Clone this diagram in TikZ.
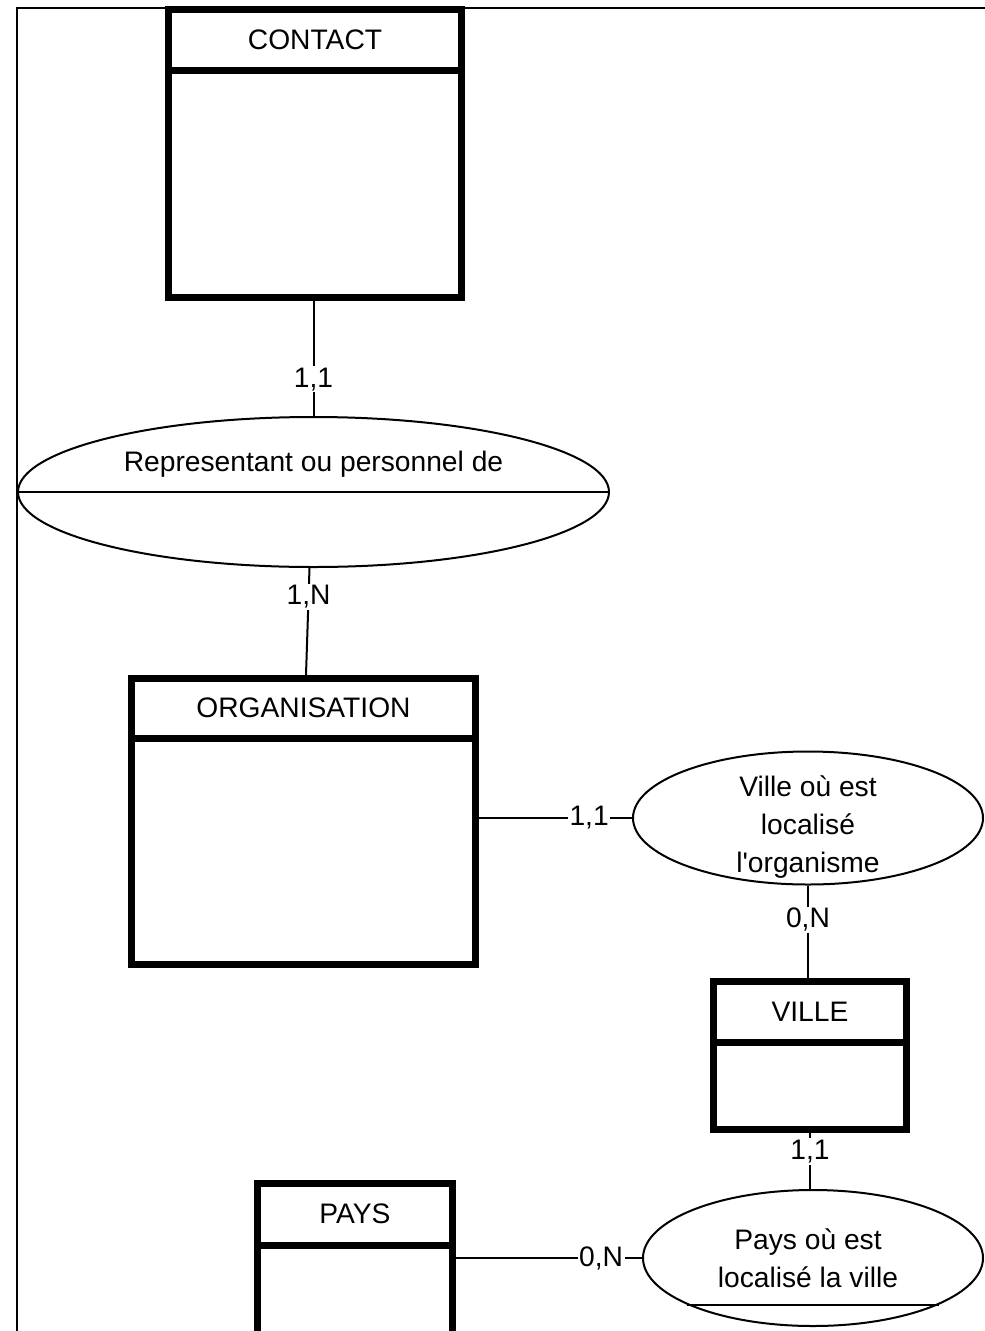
\documentclass[tikz,border=0pt]{standalone}
\usepackage{fontspec}
\setmainfont{Liberation Sans}[Ligatures=TeXOff]
\usetikzlibrary{shapes.geometric}
\begin{document}
\begin{tikzpicture}[x=1pt,y=-1pt,
  every node/.style={font=\fontsize{28.2}{38}\selectfont},
  entity/.style={draw, line width=7pt, rectangle, inner sep=0pt},
  divider/.style={line width=7pt},
  relation/.style={draw, line width=2pt, ellipse, inner sep=0pt},
  ttl/.style={inner sep=0pt, align=center},
  conn/.style={line width=2pt},
  card/.style={fill=white, inner sep=1.5pt}
]
\useasboundingbox (0,0) rectangle (985,1331);
\clip (0,0) rectangle (985,1331);
\fill[white] (0,0) rectangle (985,1331);
% frame
\draw[line width=2pt] (17,1340) -- (17,8) -- (990,8);

% CONTACT
\node[entity, minimum width=293pt, minimum height=288pt] (contact) at (315,153.5) {};
\draw[divider] (contact.west |- 0,70) -- (contact.east |- 0,70);
\node[ttl] (contactT) at (315,40) {CONTACT};

% ORGANISATION
\node[entity, minimum width=344pt, minimum height=286pt] (org) at (303.5,821.5) {};
\draw[divider] (org.west |- 0,738) -- (org.east |- 0,738);
\node[ttl] (orgT) at (303.5,708) {ORGANISATION};

% VILLE
\node[entity, minimum width=193pt, minimum height=148pt] (ville) at (810,1055.5) {};
\draw[divider] (ville.west |- 0,1042) -- (ville.east |- 0,1042);
\node[ttl] (villeT) at (810,1012) {VILLE};

% PAYS
\node[entity, minimum width=195pt, minimum height=216.5pt] (pays) at (355,1291.75) {};
\draw[divider] (pays.west |- 0,1245) -- (pays.east |- 0,1245);
\node[ttl] (paysT) at (355,1214) {PAYS};

% relation 1
\node[relation, minimum width=591pt, minimum height=150pt] (rel1) at (313.5,492) {};
\draw[conn] (rel1.west) -- (rel1.east);
\node[ttl] (rel1T) at (313.5,464) {Representant ou personnel de};

% relation 2
\node[relation, minimum width=350pt, minimum height=133pt] (rel2) at (808,818) {};
\node[ttl] (rel2T) at (808,827) {Ville où est\\localisé\\l'organisme};

% relation 3
\node[relation, minimum width=340pt, minimum height=136pt] (rel3) at (813,1258) {};
\draw[conn] ([shift={(-126,47)}]rel3.center) -- ([shift={(126,47)}]rel3.center);
\node[ttl] (rel3T) at (808,1258.5) {Pays où est\\localisé la ville};

% connectors
\draw[conn] (contact.south -| rel1.north) -- node[card, pos=0.68] {1,1} (rel1.north);
\draw[conn] ([xshift=-4pt]rel1.south) -- node[card, pos=0.27] {1,N} ([xshift=2.5pt]org.north);
\draw[conn] (org.east |- rel2.west) -- node[card, pos=0.72] {1,1} (rel2.west);
\draw[conn] (rel2.south) -- node[card, pos=0.37] {0,N} (rel2.south |- ville.north);
\draw[conn] (ville.south) -- node[card, pos=0.33] {1,1} (ville.south |- rel3.north);
\draw[conn] (pays.east |- rel3.west) -- node[card, pos=0.78] {0,N} (rel3.west);
\end{tikzpicture}
\end{document}
